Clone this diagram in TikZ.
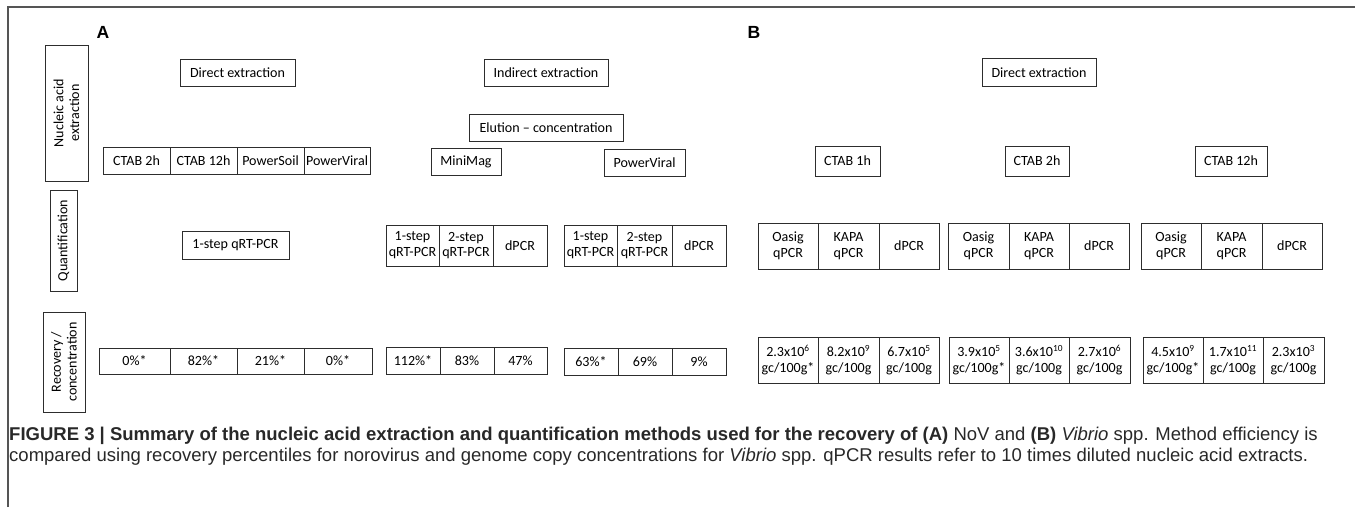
\documentclass[tikz,border=0pt]{standalone}
\usepackage{fontspec}
\setmainfont{Carlito}
\newfontfamily\capfont{Liberation Sans}
\usetikzlibrary{positioning}
\definecolor{frameline}{RGB}{85,85,85}
\definecolor{boxline}{RGB}{45,45,45}
\definecolor{captext}{RGB}{40,40,40}
\newcommand{\pxu}{0.03cm}

\tikzset{
  box/.style={draw=boxline, line width=0.6pt, inner sep=0pt, outer sep=0pt, align=center, font=\fontsize{12}{13.5}\selectfont},
  w/.style={minimum width=#1*\pxu},
  h/.style={minimum height=#1*\pxu},
  sidelabel/.style={box, rotate=90},
  panel/.style={font=\capfont\bfseries\fontsize{15}{15}\selectfont, inner sep=0pt},
  capline/.style={anchor=west, inner sep=0pt, text=captext, font=\capfont\fontsize{15.8}{18}\selectfont},
}

\begin{document}
\begin{tikzpicture}[x=0.03cm, y=-0.03cm]
\useasboundingbox (0,0) rectangle (1355,507);
\draw[frameline, line width=1.2pt] (8,507) -- (8,7) -- (1355,7);

\node[panel] (labA) at (103,32) {A};
\node[panel] (labB) at (754,32) {B};

% row labels
\node[sidelabel, w=136, h=43] (rowext) at (66.5,113) {Nucleic acid\\extraction};
\node[sidelabel, w=101, h=27] (rowquant) at (63.5,240.5) {Quantification};
\node[sidelabel, w=100, h=42] (rowrec) at (64,362) {Recovery /\\concentration};

% (A) extraction
\node[box, w=115, h=27] (directA) at (237.5,72.5) {Direct extraction};
\node[box, w=124, h=27] (indirect) at (546,72.5) {Indirect extraction};
\node[box, w=154, h=27] (elution) at (546,127.5) {Elution – concentration};
\node[box, w=70, h=27] (minimag) at (466,161.5) {MiniMag};
\node[box, w=81, h=27] (pviral) at (644.5,162.5) {PowerViral};

\node[box, w=67, h=27, anchor=west] (ctabAa) at (103,160.5) {CTAB 2h};
\node[box, w=67, h=27, right=0pt of ctabAa] (ctabAb) {CTAB 12h};
\node[box, w=67, h=27, right=0pt of ctabAb] (psoil) {PowerSoil};
\node[box, w=66, h=27, right=0pt of psoil] (pviralA) {PowerViral};

% (A) quantification
\node[box, w=107, h=28] (onestep) at (235.5,245) {1-step qRT-PCR};

\node[box, w=53, h=41, anchor=west] (mmq1) at (386,245.5) {1-step\\qRT-PCR};
\node[box, w=54, h=41, right=0pt of mmq1] (mmq2) {2-step\\qRT-PCR};
\node[box, w=54, h=41, right=0pt of mmq2] (mmq3) {dPCR};

\node[box, w=53, h=41, anchor=west] (pvq1) at (564,245.5) {1-step\\qRT-PCR};
\node[box, w=55, h=41, right=0pt of pvq1] (pvq2) {2-step\\qRT-PCR};
\node[box, w=54, h=41, right=0pt of pvq2] (pvq3) {dPCR};

% (A) recovery
\node[box, w=71, h=26, anchor=west] (recA1) at (99,361) {0\%*};
\node[box, w=67, h=26, right=0pt of recA1] (recA2) {82\%*};
\node[box, w=67, h=26, right=0pt of recA2] (recA3) {21\%*};
\node[box, w=68, h=26, right=0pt of recA3] (recA4) {0\%*};

\node[box, w=54, h=27, anchor=west] (mmr1) at (386,360.5) {112\%*};
\node[box, w=54, h=27, right=0pt of mmr1] (mmr2) {83\%};
\node[box, w=53, h=27, right=0pt of mmr2] (mmr3) {47\%};

\node[box, w=54, h=27, anchor=west] (pvr1) at (564,361.5) {63\%*};
\node[box, w=54, h=27, right=0pt of pvr1] (pvr2) {69\%};
\node[box, w=54, h=27, right=0pt of pvr2] (pvr3) {9\%};

% (B) extraction
\node[box, w=114, h=28] (directB) at (1039,72.5) {Direct extraction};
\node[box, w=65, h=30] (ctab1) at (847.5,161) {CTAB 1h};
\node[box, w=64, h=30] (ctab2) at (1037,161) {CTAB 2h};
\node[box, w=72, h=30] (ctab12) at (1231,161) {CTAB 12h};

% (B) quantification
\node[box, w=60, h=46, anchor=west] (qa1) at (758,246) {Oasig\\qPCR};
\node[box, w=61, h=46, right=0pt of qa1] (qa2) {KAPA\\qPCR};
\node[box, w=60, h=46, right=0pt of qa2] (qa3) {dPCR};

\node[box, w=61, h=46, anchor=west] (qb1) at (948,246) {Oasig\\qPCR};
\node[box, w=60, h=46, right=0pt of qb1] (qb2) {KAPA\\qPCR};
\node[box, w=60, h=46, right=0pt of qb2] (qb3) {dPCR};

\node[box, w=60, h=46, anchor=west] (qc1) at (1141,246) {Oasig\\qPCR};
\node[box, w=61, h=46, right=0pt of qc1] (qc2) {KAPA\\qPCR};
\node[box, w=60, h=46, right=0pt of qc2] (qc3) {dPCR};

% (B) concentration
\node[box, w=60, h=46, anchor=west] (ra1) at (758,360) {2.3x10\textsuperscript{6}\\gc/100g*};
\node[box, w=61, h=46, right=0pt of ra1] (ra2) {8.2x10\textsuperscript{9}\\gc/100g};
\node[box, w=60, h=46, right=0pt of ra2] (ra3) {6.7x10\textsuperscript{5}\\gc/100g};

\node[box, w=60, h=46, anchor=west] (rb1) at (949,360) {3.9x10\textsuperscript{5}\\gc/100g*};
\node[box, w=60, h=46, right=0pt of rb1] (rb2) {3.6x10\textsuperscript{10}\\gc/100g};
\node[box, w=61, h=46, right=0pt of rb2] (rb3) {2.7x10\textsuperscript{6}\\gc/100g};

\node[box, w=60, h=46, anchor=west] (rc1) at (1143,360) {4.5x10\textsuperscript{9}\\gc/100g*};
\node[box, w=60, h=46, right=0pt of rc1] (rc2) {1.7x10\textsuperscript{11}\\gc/100g};
\node[box, w=61, h=46, right=0pt of rc2] (rc3) {2.3x10\textsuperscript{3}\\gc/100g};

% caption
\node[capline] (cap1) at (9,436) {\textbf{FIGURE 3 | Summary of the nucleic acid extraction and quantification methods used for the recovery of (A)} NoV and \textbf{(B)} \textit{Vibrio} spp. Method efficiency is};
\node[capline] (cap2) at (9,457) {compared using recovery percentiles for norovirus and genome copy concentrations for \textit{Vibrio} spp. qPCR results refer to 10 times diluted nucleic acid extracts.};
\end{tikzpicture}
\end{document}
